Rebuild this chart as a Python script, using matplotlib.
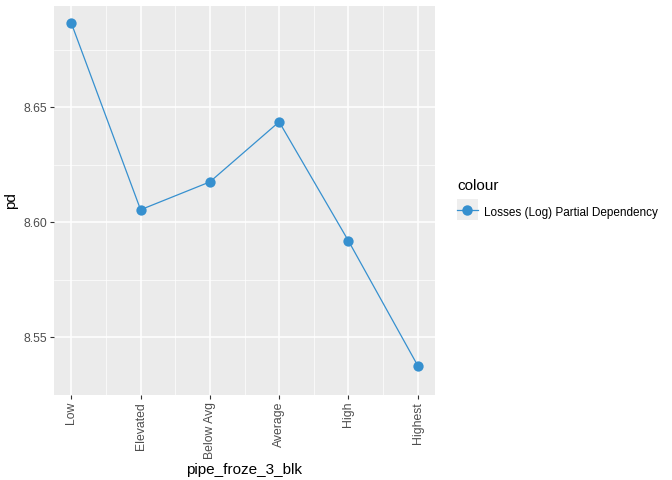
import numpy as np
import matplotlib
matplotlib.use("Agg")
import matplotlib.pyplot as plt
from matplotlib.lines import Line2D
from matplotlib.patches import Rectangle
from matplotlib.legend_handler import HandlerLine2D

plt.rcParams['font.family'] = ['Liberation Sans', 'DejaVu Sans']

# data
categories = ["Low", "Elevated", "Below Avg", "Average", "High", "Highest"]
pd_values = [8.6866, 8.6055, 8.6176, 8.6437, 8.5920, 8.5378]
series_label = "Losses (Log) Partial Dependency"

x = np.arange(1, len(categories) + 1)
col = '#3690cf'


class KeyHandler(HandlerLine2D):
    # ggplot style key: grey box behind the line + point
    def create_artists(self, legend, orig_handle, xdescent, ydescent, width, height, fontsize, trans):
        arts = super().create_artists(legend, orig_handle, xdescent, ydescent, width, height, fontsize, trans)
        side = width
        yc = (height - ydescent) / 2
        box = Rectangle((-xdescent, yc - side / 2), side, side,
                        facecolor='#eeeeee', edgecolor='none', transform=trans)
        return [box] + list(arts)


fig = plt.figure(figsize=(6.72, 4.8), dpi=100)
ax = fig.add_axes([54 / 672, 85 / 480, 381 / 672, 389 / 480])
ax.set_facecolor('#ebebeb')

ax.plot(x, pd_values, color=col, lw=0.9, zorder=3)
ax.scatter(x, pd_values, s=55, color=col, zorder=4, linewidths=0)

# ggplot-like expansion
ax.set_xlim(1 - 0.25, 6 + 0.25)
ymin, ymax = min(pd_values), max(pd_values)
pad = (ymax - ymin) * 0.05
ax.set_ylim(ymin - pad, ymax + pad)

ax.set_xticks(x)
ax.set_xticklabels(categories, rotation=90)
ax.set_xticks(x[:-1] + 0.5, minor=True)
ax.set_yticks([8.55, 8.60, 8.65])
ax.set_yticklabels(["8.55", "8.60", "8.65"])
ax.set_yticks([8.525, 8.575, 8.625, 8.675], minor=True)

ax.grid(which='major', color='white', lw=1.1)
ax.grid(which='minor', color='white', lw=0.5)
ax.set_axisbelow(True)
for s in ax.spines.values():
    s.set_visible(False)
ax.tick_params(which='major', length=3, color='#333333', labelcolor='#4d4d4d', labelsize=8.8, pad=2)
ax.tick_params(which='minor', length=0)

ax.set_xlabel("pipe_froze_3_blk", fontsize=11, labelpad=3)
ax.set_ylabel("pd", fontsize=11, labelpad=4)

handle = Line2D([0], [0], color=col, lw=0.9, marker='o', markersize=7.5, markeredgewidth=0)
leg = fig.legend([handle], [series_label], title="colour", loc='upper left',
                 bbox_to_anchor=(457 / 672, 1 - 179 / 480), frameon=False,
                 fontsize=8.5, title_fontsize=11, handlelength=1.75, handleheight=1.8,
                 handletextpad=0.55, borderaxespad=0, borderpad=0, labelspacing=0.9,
                 handler_map={Line2D: KeyHandler()})
leg._legend_box.align = "left"

fig.savefig("out.png", dpi=100)
